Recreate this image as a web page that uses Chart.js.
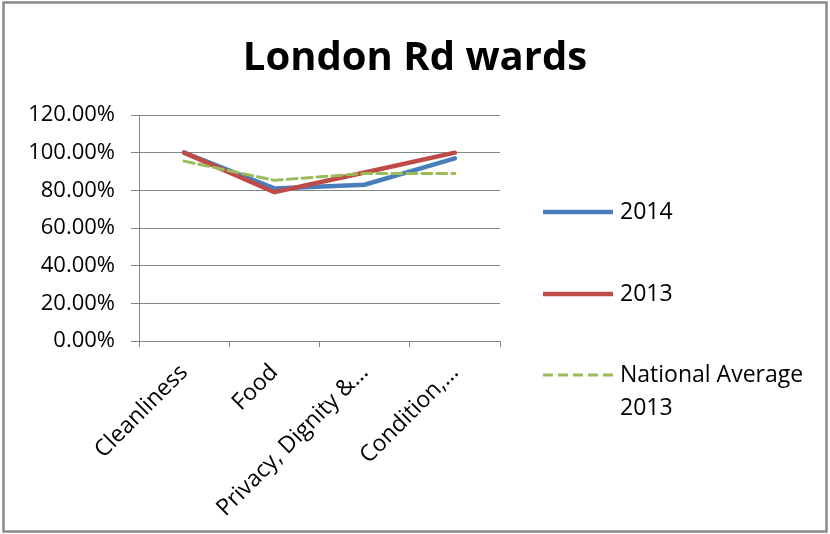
<!DOCTYPE html>
<html>
<head>
<meta charset="utf-8">
<script src="https://cdn.jsdelivr.net/npm/chart.js@4"></script>
<style>
  html, body { margin: 0; padding: 0; background: #fff; }
  #wrap { width: 830px; height: 534px; }
</style>
</head>
<body>
<div id="wrap"><canvas id="chart" width="830" height="534"></canvas></div>
<script>
// London Rd wards - scores per category
const categories = ['Cleanliness', 'Food', 'Privacy, Dignity &...', 'Condition,...'];
const scores2014 = [100, 81, 83, 97];
const scores2013 = [100, 79, 89.5, 100];
const national2013 = [95.5, 85.3, 89, 89];
const seriesNames = [['2014'], ['2013'], ['National Average', '2013']];
const FONT = 'Open Sans';

// grey frame round the whole picture
const framePlugin = {
    id: 'frame',
    beforeDraw(chart) {
        const ctx = chart.ctx;
        ctx.save();
        ctx.fillStyle = '#fff';
        ctx.fillRect(0, 0, chart.width, chart.height);
        ctx.strokeStyle = '#8a8a8a';
        ctx.lineWidth = 2.5;
        ctx.strokeRect(3.5, 2.5, chart.width - 7, chart.height - 5);
        ctx.restore();
    }
};

// legend on the right, Excel style (line sample + label, wrapped text)
const sideLegend = {
    id: 'sideLegend',
    afterDraw(chart) {
        const ctx = chart.ctx, area = chart.chartArea;
        const x0 = area.right + 43, tops = [97, 179, 260];
        ctx.save();
        ctx.font = '23px "' + FONT + '"';
        ctx.textBaseline = 'middle';
        ctx.fillStyle = '#000';
        chart.data.datasets.forEach((ds, i) => {
            const y = area.top + tops[i];
            ctx.beginPath();
            ctx.strokeStyle = ds.borderColor;
            ctx.lineWidth = ds.borderWidth;
            ctx.setLineDash(ds.borderDash || []);
            ctx.moveTo(x0, y);
            ctx.lineTo(x0 + 70, y);
            ctx.stroke();
            seriesNames[i].forEach((t, j) => ctx.fillText(t, x0 + 77, y + j * 33));
        });
        ctx.restore();
    }
};

new Chart(document.getElementById('chart'), {
    type: 'line',
    data: {
        labels: categories,
        datasets: [
            { label: '2014', data: scores2014, borderColor: '#4A7EBB', borderWidth: 4.5, order: 2 },
            { label: '2013', data: scores2013, borderColor: '#BE4B48', borderWidth: 4.5, order: 1 },
            { label: 'National Average 2013', data: national2013, borderColor: '#9BBB59', borderWidth: 3, borderDash: [10, 5], order: 0 }
        ]
    },
    options: {
        responsive: false,
        animation: false,
        elements: { point: { radius: 0 }, line: { tension: 0, borderCapStyle: 'round' } },
        layout: { padding: { left: 8, right: 8, top: 35, bottom: 8 } },
        plugins: {
            legend: { display: false },
            tooltip: { enabled: false },
            title: {
                display: true,
                text: 'London Rd wards',
                color: '#000',
                font: { family: FONT, size: 40, weight: 'bold' },
                padding: { top: 0, bottom: 32 }
            }
        },
        scales: {
            x: {
                offset: true,
                grid: { offset: true, drawOnChartArea: false, color: '#868686', tickLength: 6 },
                border: { color: '#868686' },
                ticks: {
                    color: '#000', maxRotation: 45, minRotation: 45, padding: 12, autoSkip: false,
                    font: { family: FONT, size: 23 }
                },
                afterFit(s) { s.height = 534 - 8 - 341; }
            },
            y: {
                min: 0, max: 120,
                grid: { color: '#868686', tickLength: 8 },
                border: { color: '#868686' },
                ticks: {
                    stepSize: 20, color: '#000', padding: 16,
                    font: { family: FONT, size: 22 },
                    callback: v => v.toFixed(2) + '%'
                },
                afterFit(s) { s.width = 139 - 8; }
            },
            side: {
                position: 'right',
                grid: { display: false },
                border: { display: false },
                ticks: { display: false },
                afterFit(s) { s.width = 830 - 8 - 500; }
            }
        }
    },
    plugins: [framePlugin, sideLegend]
});
</script>
</body>
</html>
